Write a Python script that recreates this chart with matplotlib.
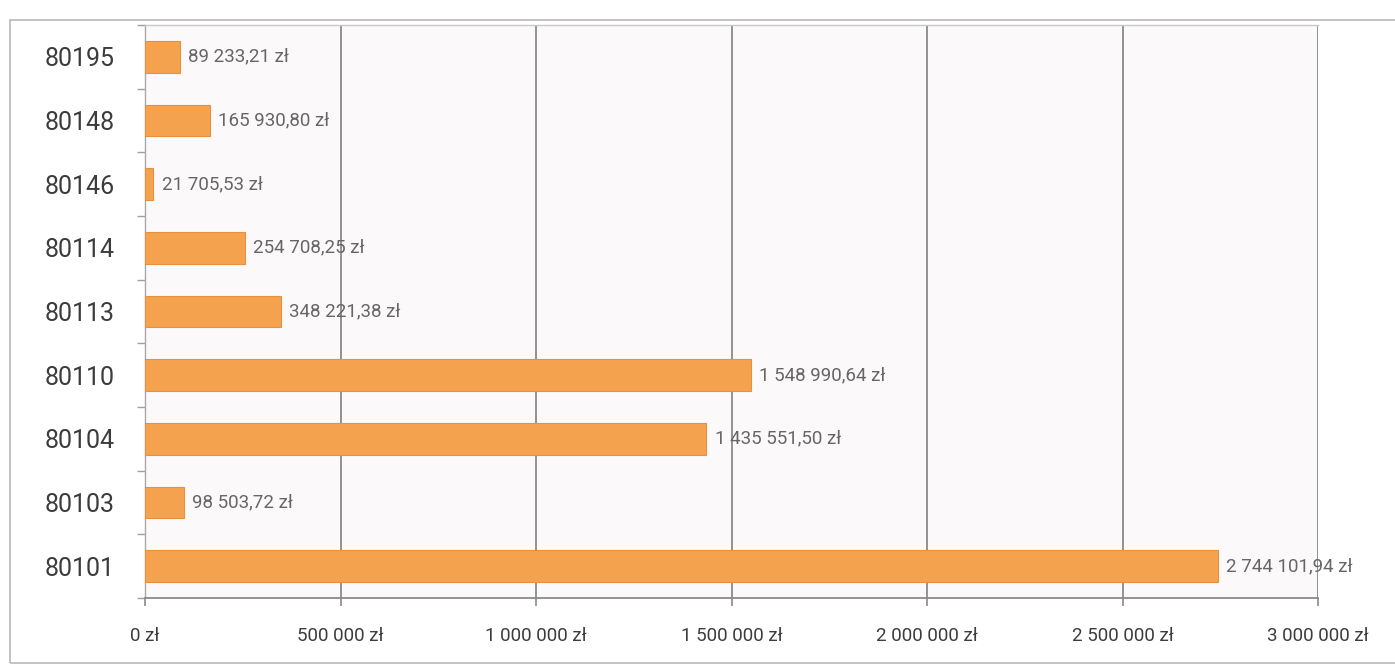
import matplotlib
matplotlib.use("Agg")
import matplotlib.pyplot as plt
from matplotlib.patches import Rectangle
from matplotlib.ticker import FixedLocator

# Budget section codes (top to bottom) and their amounts in PLN
categories = ["80195", "80148", "80146", "80114", "80113", "80110", "80104", "80103", "80101"]
values = [89233.21, 165930.80, 21705.53, 254708.25, 348221.38, 1548990.64, 1435551.50, 98503.72, 2744101.94]
value_labels = ["89 233,21 zł", "165 930,80 zł", "21 705,53 zł", "254 708,25 zł", "348 221,38 zł",
                "1 548 990,64 zł", "1 435 551,50 zł", "98 503,72 zł", "2 744 101,94 zł"]
x_ticks = [0, 500000, 1000000, 1500000, 2000000, 2500000, 3000000]
x_tick_labels = ["0 zł", "500 000 zł", "1 000 000 zł", "1 500 000 zł", "2 000 000 zł", "2 500 000 zł", "3 000 000 zł"]

plt.rcParams["font.family"] = ["Roboto", "DejaVu Sans"]

W, H = 1395, 666
fig = plt.figure(figsize=(W / 100, H / 100), dpi=100)
fig.patch.set_facecolor("white")

# outer chart frame
fig.patches.append(Rectangle((10 / W, 3 / H), 1400 / W, 643 / H, transform=fig.transFigure,
                             fill=False, edgecolor="#b9b9b9", linewidth=1.2, zorder=0))

ax = fig.add_axes([145 / W, (H - 598) / H, (1318 - 145) / W, (598 - 25) / H])
ax.set_facecolor("#fcf9fa")

n = len(categories)
ypos = list(range(n))
ax.barh(ypos, values, height=0.5, color="#f5a24e", edgecolor="#e8913c", linewidth=0.8, zorder=3)

for y, v, lab in zip(ypos, values, value_labels):
    ax.annotate(lab, xy=(v, y), xytext=(6, 0), textcoords="offset points",
                ha="left", va="center", fontsize=13.5, color="#666666", zorder=4)

ax.set_xlim(0, 3000000)
ax.set_ylim(n - 0.5, -0.5)

ax.set_xticks(x_ticks)
ax.set_xticklabels(x_tick_labels)
ax.set_yticks(ypos)
ax.set_yticklabels(categories)
ax.yaxis.set_minor_locator(FixedLocator([i + 0.5 for i in range(-1, n)]))

ax.tick_params(axis="x", which="major", length=6, width=1.2, color="#8a8a8a", pad=15,
               labelsize=13.5, labelcolor="#3c3c3c")
ax.tick_params(axis="y", which="major", length=0, pad=22, labelsize=18, labelcolor="#3c3c3c")
ax.tick_params(axis="y", which="minor", length=6, width=1.0, color="#a0a0a0")

ax.grid(axis="x", color="#8a8a8a", linewidth=1.3, zorder=1)
ax.grid(axis="y", visible=False)

ax.spines["top"].set_color("#c8c8c8")
ax.spines["top"].set_linewidth(1.0)
ax.spines["right"].set_visible(False)
ax.spines["left"].set_color("#a8a8a8")
ax.spines["left"].set_linewidth(1.0)
ax.spines["bottom"].set_color("#8a8a8a")
ax.spines["bottom"].set_linewidth(1.3)

fig.savefig("out.png", dpi=100)
